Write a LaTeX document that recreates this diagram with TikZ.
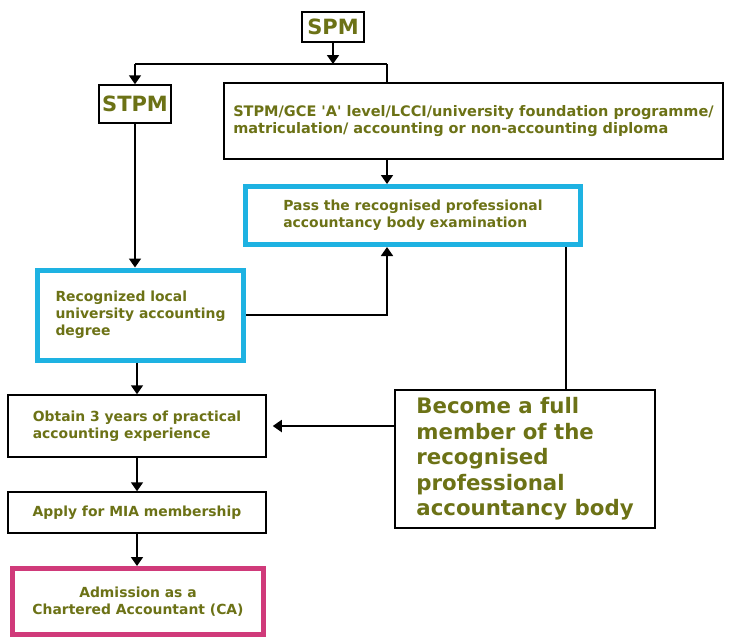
\documentclass[tikz,border=0pt]{standalone}
\usepackage{fontspec}
\setmainfont{DejaVu Sans}
\usetikzlibrary{arrows.meta}
\definecolor{olive}{RGB}{108,114,22}
\definecolor{cyanb}{RGB}{30,178,226}
\definecolor{magb}{RGB}{208,58,122}
\tikzset{
  box/.style={draw=black, line width=1.5pt, fill=white, align=left, inner sep=0pt,
    text=olive, font=\bfseries\fontsize{13.9}{17}\selectfont},
  bigtext/.style={font=\bfseries\fontsize{21}{25}\selectfont},
  cyanbox/.style={box, draw=cyanb, line width=5pt},
  magbox/.style={box, draw=magb, line width=5pt, align=center},
  conn/.style={line width=1.8pt, draw=black},
  arr/.style={conn, -{Triangle[width=12pt,length=9pt]}}
}
\begin{document}
\begin{tikzpicture}[x=1pt,y=-1pt]
\useasboundingbox[fill=white] (0,0) rectangle (730,641);
\node[box, bigtext, minimum width=62pt, minimum height=30pt] (spm) at (333,27) {SPM};
\node[box, bigtext, minimum width=72pt, minimum height=38pt] (stpm) at (135,104) {STPM};
\node[box, font=\bfseries\fontsize{14.5}{17}\selectfont, minimum width=499pt, minimum height=76pt] (big) at (473.5,121) {STPM/GCE \textquotesingle A\textquotesingle{} level/LCCI/university foundation programme/\\matriculation/ accounting or non-accounting diploma};
\node[cyanbox, minimum width=335pt, minimum height=58pt] (pass) at (413,215.5) {Pass the recognised professional\\accountancy body examination};
\node[cyanbox, minimum width=206pt, minimum height=90pt] (rec) at (140.5,315) {Recognized local\\university accounting\\degree};
\node[box, minimum width=258pt, minimum height=62pt] (obtain) at (137,426) {Obtain 3 years of practical\\accounting experience};
\node[box, minimum width=258pt, minimum height=41pt] (apply) at (137,512.5) {Apply for MIA membership};
\node[magbox, minimum width=251pt, minimum height=66pt] (adm) at (138,601.5) {Admission as a\\Chartered Accountant (CA)};
\node[box, font=\bfseries\fontsize{21.3}{25.5}\selectfont, minimum width=260pt, minimum height=138pt] (become) at (525,459) {Become a full\\member of the\\recognised\\professional\\accountancy body};
\coordinate (jl) at (135,64);
\coordinate (jr) at (387,64);
\coordinate (bx) at (566,0);
\draw[arr] (spm.south) -- (spm.south |- jl);
\draw[conn] (jl) -- (jr);
\draw[arr] (jl) -- (stpm.north);
\draw[conn] (jr) -- (jr |- big.north);
\draw[arr] (jr |- big.south) -- (jr |- pass.north);
\draw[arr] (stpm.south) -- (stpm.south |- rec.north);
\draw[arr] (rec.east) -| (jr |- pass.south);
\draw[conn] (bx |- pass.south) -- (bx |- become.north);
\draw[arr, shorten >=6pt] (become.west |- obtain.east) -- (obtain.east);
\draw[arr] (obtain.north |- rec.south) -- (obtain.north);
\draw[arr] (obtain.south) -- (apply.north);
\draw[arr] (apply.south) -- (apply.south |- adm.north);
\end{tikzpicture}
\end{document}
